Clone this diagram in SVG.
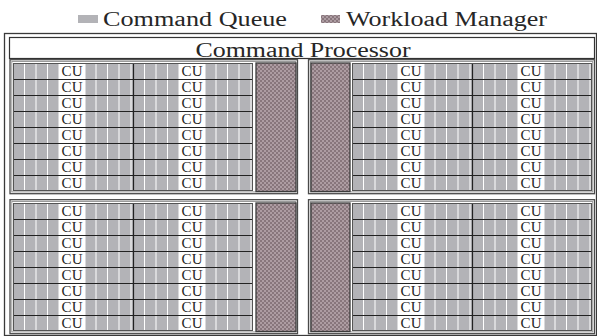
<svg xmlns="http://www.w3.org/2000/svg" xmlns:xlink="http://www.w3.org/1999/xlink" width="597" height="336" viewBox="0 0 597 336">
<style>
.big{font-family:"Liberation Serif",serif;font-size:20px;fill:#262626}
.cu{font-family:"Liberation Serif",serif;font-size:15px;fill:#262626;text-anchor:middle}
.quad{fill:#fff;stroke:#4a4a4a;stroke-width:1.3}
.quadin{fill:none;stroke:#9a9a9a;stroke-width:1}
.wm{fill:url(#wmpat);stroke:#3c3c3c;stroke-width:1.3}
</style>
<defs>
<pattern id="wmpat" width="4" height="4" patternUnits="userSpaceOnUse">
<rect width="4" height="4" fill="#ad9ca2"/>
<rect width="2" height="2" fill="#88767c"/>
<rect x="2" y="2" width="2" height="2" fill="#88767c"/>
</pattern>
<g id="col">
<rect x="0" y="0" width="120" height="128" fill="#b3b3b7"/>
<path d="M11.5,0V128M23,0V128M34.5,0V128M83,0V128M94.5,0V128M106,0V128M118,0V128" stroke="#fff" stroke-width="1" fill="none"/>
<rect x="45.5" y="0" width="27" height="128" fill="#fff"/>
</g>
<g id="cuarea">
<use xlink:href="#col" x="0" y="0"/>
<use xlink:href="#col" x="120" y="0"/>
<path d="M0,16.5H240M0,32.5H240M0,48.5H240M0,64.5H240M0,80.5H240M0,96.5H240M0,112.5H240" stroke="#222" stroke-width="1" fill="none"/>
<path d="M120.5,0V128" stroke="#222" stroke-width="1.2" fill="none"/>
<rect x="0.5" y="0.5" width="239" height="127" fill="none" stroke="#555" stroke-width="1"/>
</g>
</defs>

<g id="legend">
<rect x="78" y="15" width="20" height="8" fill="#b3b3b7"/>
<text class="big" x="103" y="26" textLength="184" lengthAdjust="spacingAndGlyphs">Command Queue</text>
<rect x="321" y="15" width="19" height="8" fill="url(#wmpat)"/>
<text class="big" x="346" y="26" textLength="201" lengthAdjust="spacingAndGlyphs">Workload Manager</text>
</g>

<g id="frame">
<rect x="4.5" y="33.5" width="592" height="302" fill="#fff" stroke="#3a3a3a" stroke-width="1.3"/>
</g>

<g id="command-processor">
<rect x="9.5" y="37.5" width="585" height="21" fill="#fff" stroke="#333" stroke-width="1.2"/>
<text class="big" x="195.5" y="56.5" textLength="215" lengthAdjust="spacingAndGlyphs">Command Processor</text>
</g>

<g id="connectors"></g>

<g id="se-top-left">
<rect class="quad" x="10" y="59.7" width="287.5" height="134"/>
<rect class="quadin" x="11.8" y="61.5" width="283.9" height="130.4"/>
<use xlink:href="#cuarea" x="13" y="63"/>
<rect id="wm-top-left" class="wm" x="256" y="63" width="40" height="128.5"/>
<g id="cu-top-left">
<text class="cu" x="72" y="75.5" textLength="21">CU</text>
<text class="cu" x="72" y="91.5" textLength="21">CU</text>
<text class="cu" x="72" y="107.5" textLength="21">CU</text>
<text class="cu" x="72" y="123.5" textLength="21">CU</text>
<text class="cu" x="72" y="139.5" textLength="21">CU</text>
<text class="cu" x="72" y="155.5" textLength="21">CU</text>
<text class="cu" x="72" y="171.5" textLength="21">CU</text>
<text class="cu" x="72" y="187.5" textLength="21">CU</text>
<text class="cu" x="192" y="75.5" textLength="21">CU</text>
<text class="cu" x="192" y="91.5" textLength="21">CU</text>
<text class="cu" x="192" y="107.5" textLength="21">CU</text>
<text class="cu" x="192" y="123.5" textLength="21">CU</text>
<text class="cu" x="192" y="139.5" textLength="21">CU</text>
<text class="cu" x="192" y="155.5" textLength="21">CU</text>
<text class="cu" x="192" y="171.5" textLength="21">CU</text>
<text class="cu" x="192" y="187.5" textLength="21">CU</text>
</g>
</g>

<g id="se-top-right">
<rect class="quad" x="308.5" y="59.7" width="286" height="134"/>
<rect class="quadin" x="310.3" y="61.5" width="282.4" height="130.4"/>
<use xlink:href="#cuarea" x="352" y="63"/>
<rect id="wm-top-right" class="wm" x="311" y="63" width="39" height="128.5"/>
<g id="cu-top-right">
<text class="cu" x="411" y="75.5" textLength="21">CU</text>
<text class="cu" x="411" y="91.5" textLength="21">CU</text>
<text class="cu" x="411" y="107.5" textLength="21">CU</text>
<text class="cu" x="411" y="123.5" textLength="21">CU</text>
<text class="cu" x="411" y="139.5" textLength="21">CU</text>
<text class="cu" x="411" y="155.5" textLength="21">CU</text>
<text class="cu" x="411" y="171.5" textLength="21">CU</text>
<text class="cu" x="411" y="187.5" textLength="21">CU</text>
<text class="cu" x="531" y="75.5" textLength="21">CU</text>
<text class="cu" x="531" y="91.5" textLength="21">CU</text>
<text class="cu" x="531" y="107.5" textLength="21">CU</text>
<text class="cu" x="531" y="123.5" textLength="21">CU</text>
<text class="cu" x="531" y="139.5" textLength="21">CU</text>
<text class="cu" x="531" y="155.5" textLength="21">CU</text>
<text class="cu" x="531" y="171.5" textLength="21">CU</text>
<text class="cu" x="531" y="187.5" textLength="21">CU</text>
</g>
</g>

<g id="se-bottom-left">
<rect class="quad" x="10" y="199.7" width="287.5" height="134"/>
<rect class="quadin" x="11.8" y="201.5" width="283.9" height="130.4"/>
<use xlink:href="#cuarea" x="13" y="203"/>
<rect id="wm-bottom-left" class="wm" x="256" y="203" width="40" height="128.5"/>
<g id="cu-bottom-left">
<text class="cu" x="72" y="215.5" textLength="21">CU</text>
<text class="cu" x="72" y="231.5" textLength="21">CU</text>
<text class="cu" x="72" y="247.5" textLength="21">CU</text>
<text class="cu" x="72" y="263.5" textLength="21">CU</text>
<text class="cu" x="72" y="279.5" textLength="21">CU</text>
<text class="cu" x="72" y="295.5" textLength="21">CU</text>
<text class="cu" x="72" y="311.5" textLength="21">CU</text>
<text class="cu" x="72" y="327.5" textLength="21">CU</text>
<text class="cu" x="192" y="215.5" textLength="21">CU</text>
<text class="cu" x="192" y="231.5" textLength="21">CU</text>
<text class="cu" x="192" y="247.5" textLength="21">CU</text>
<text class="cu" x="192" y="263.5" textLength="21">CU</text>
<text class="cu" x="192" y="279.5" textLength="21">CU</text>
<text class="cu" x="192" y="295.5" textLength="21">CU</text>
<text class="cu" x="192" y="311.5" textLength="21">CU</text>
<text class="cu" x="192" y="327.5" textLength="21">CU</text>
</g>
</g>

<g id="se-bottom-right">
<rect class="quad" x="308.5" y="199.7" width="286" height="134"/>
<rect class="quadin" x="310.3" y="201.5" width="282.4" height="130.4"/>
<use xlink:href="#cuarea" x="352" y="203"/>
<rect id="wm-bottom-right" class="wm" x="311" y="203" width="39" height="128.5"/>
<g id="cu-bottom-right">
<text class="cu" x="411" y="215.5" textLength="21">CU</text>
<text class="cu" x="411" y="231.5" textLength="21">CU</text>
<text class="cu" x="411" y="247.5" textLength="21">CU</text>
<text class="cu" x="411" y="263.5" textLength="21">CU</text>
<text class="cu" x="411" y="279.5" textLength="21">CU</text>
<text class="cu" x="411" y="295.5" textLength="21">CU</text>
<text class="cu" x="411" y="311.5" textLength="21">CU</text>
<text class="cu" x="411" y="327.5" textLength="21">CU</text>
<text class="cu" x="531" y="215.5" textLength="21">CU</text>
<text class="cu" x="531" y="231.5" textLength="21">CU</text>
<text class="cu" x="531" y="247.5" textLength="21">CU</text>
<text class="cu" x="531" y="263.5" textLength="21">CU</text>
<text class="cu" x="531" y="279.5" textLength="21">CU</text>
<text class="cu" x="531" y="295.5" textLength="21">CU</text>
<text class="cu" x="531" y="311.5" textLength="21">CU</text>
<text class="cu" x="531" y="327.5" textLength="21">CU</text>
</g>
</g>
</svg>
